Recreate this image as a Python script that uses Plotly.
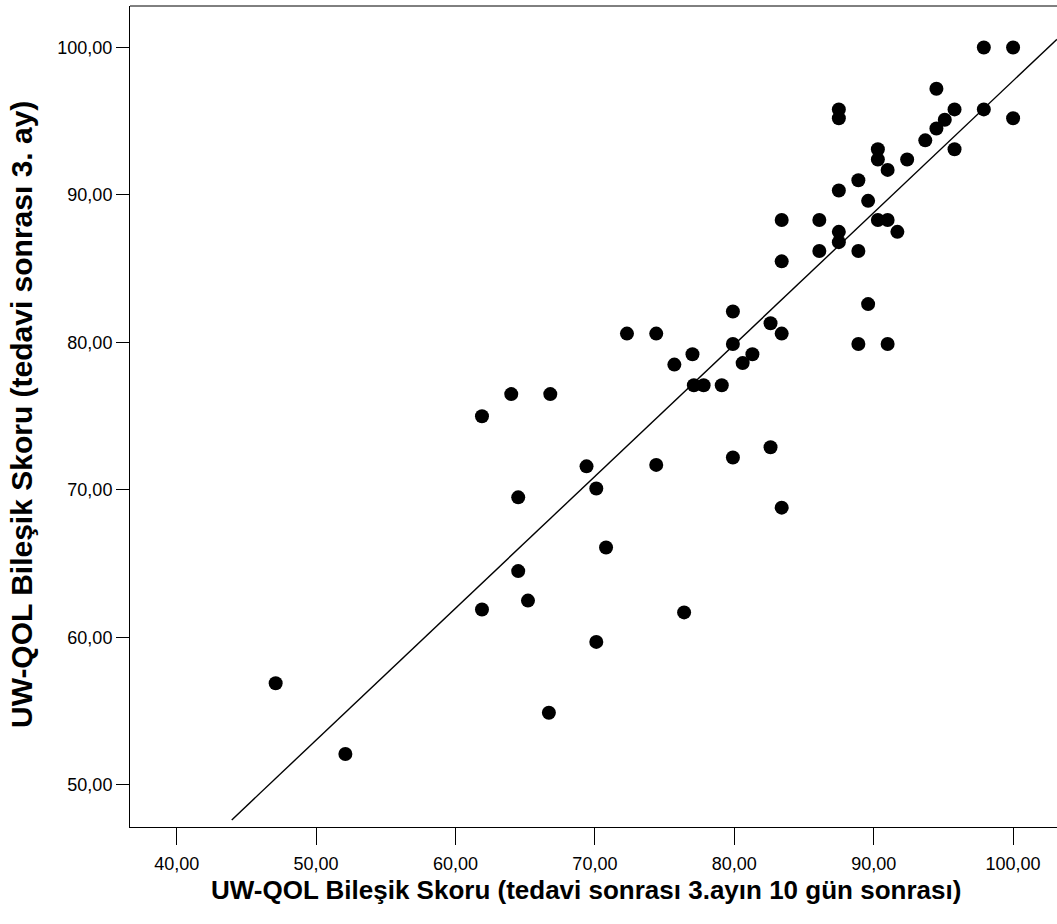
import plotly.graph_objects as go
import numpy as np

# Data
x_vals = [47.1, 52.1, 61.9, 61.9, 64.0, 64.5, 64.5, 65.2, 66.7, 66.8,
          69.4, 70.1, 70.1, 70.8, 72.3, 74.4, 74.4, 75.7, 76.4, 77.0,
          77.1, 77.8, 79.1, 79.9, 79.9, 79.9, 80.6, 81.3, 82.6, 82.6,
          83.4, 83.4, 83.4, 83.4, 86.1, 86.1, 87.5, 87.5, 87.5, 87.5,
          87.5, 88.9, 88.9, 88.9, 89.6, 89.6, 90.3, 90.3, 90.3, 91.0,
          91.0, 91.0, 91.7, 92.4, 93.7, 94.5, 94.5, 95.1, 95.8, 95.8,
          97.9, 97.9, 100.0, 100.0]
y_vals = [56.9, 52.1, 75.0, 61.9, 76.5, 69.5, 64.5, 62.5, 54.9, 76.5,
          71.6, 70.1, 59.7, 66.1, 80.6, 80.6, 71.7, 78.5, 61.7, 79.2,
          77.1, 77.1, 77.1, 82.1, 79.9, 72.2, 78.6, 79.2, 81.3, 72.9,
          88.3, 85.5, 80.6, 68.8, 88.3, 86.2, 95.8, 95.2, 90.3, 87.5,
          86.8, 91.0, 86.2, 79.9, 89.6, 82.6, 93.1, 92.4, 88.3, 91.7,
          88.3, 79.9, 87.5, 92.4, 93.7, 97.2, 94.5, 95.1, 95.8, 93.1,
          100.0, 95.8, 100.0, 95.2]

fit_slope = 0.894
fit_intercept = 8.34
fit_x_start = 43.95

x_ticks = [40, 50, 60, 70, 80, 90, 100]
x_tick_labels = ["40,00", "50,00", "60,00", "70,00", "80,00", "90,00", "100,00"]
y_ticks = [50, 60, 70, 80, 90, 100]
y_tick_labels = ["50,00", "60,00", "70,00", "80,00", "90,00", "100,00"]

x_range = [36.65, 103.15]
y_range = [47.15, 102.81]

x_title = "UW-QOL Bileşik Skoru (tedavi sonrası 3.ayın 10 gün sonrası)"
y_title = "UW-QOL Bileşik Skoru (tedavi sonrası 3. ay)"

fig = go.Figure()

fit_x = np.array([fit_x_start, x_range[1]])
fit_y = fit_slope * fit_x + fit_intercept
fig.add_trace(go.Scatter(x=fit_x, y=fit_y, mode="lines",
                         line=dict(color="black", width=1.4),
                         hoverinfo="skip", showlegend=False))

fig.add_trace(go.Scatter(x=x_vals, y=y_vals, mode="markers",
                         marker=dict(color="black", size=14, line=dict(width=0)),
                         showlegend=False))

tick_font = dict(family="Liberation Sans, Arial, sans-serif", size=18, color="black")

fig.update_xaxes(range=x_range, tickvals=x_ticks, ticktext=x_tick_labels,
                 showgrid=False, zeroline=False, showline=True, linecolor="black",
                 linewidth=1, ticks="outside", ticklen=17, tickwidth=1,
                 tickcolor="black", tickfont=tick_font, ticklabelstandoff=3)
fig.update_yaxes(range=y_range, tickvals=y_ticks, ticktext=y_tick_labels,
                 showgrid=False, zeroline=False, showline=True, linecolor="black",
                 linewidth=1, ticks="outside", ticklen=13, tickwidth=1,
                 tickcolor="black", tickfont=tick_font, ticklabelstandoff=0)

fig.add_shape(type="line", xref="paper", yref="paper", x0=0, x1=1, y0=1, y1=1,
              line=dict(color="black", width=1))

W, H = 1057, 924
ml, mr, mt, mb = 130, 0, 6, 97
pw = W - ml - mr
ph = H - mt - mb

fig.add_annotation(text="<b>" + x_title + "</b>", xref="paper", yref="paper",
                   x=(586 - ml) / pw, y=-(890 - (mt + ph)) / ph,
                   showarrow=False,
                   font=dict(family="Liberation Sans, Arial, sans-serif", size=26, color="black"),
                   xanchor="center", yanchor="middle")
fig.add_annotation(text="<b>" + y_title + "</b>", xref="paper", yref="paper",
                   x=-(ml - 22) / pw, y=1 - (415 - mt) / ph, textangle=-90,
                   showarrow=False,
                   font=dict(family="Liberation Sans, Arial, sans-serif", size=30, color="black"),
                   xanchor="center", yanchor="middle")

fig.update_layout(width=W, height=H, margin=dict(l=ml, r=mr, t=mt, b=mb),
                  paper_bgcolor="white", plot_bgcolor="white", showlegend=False)

fig.write_html("out.html")
